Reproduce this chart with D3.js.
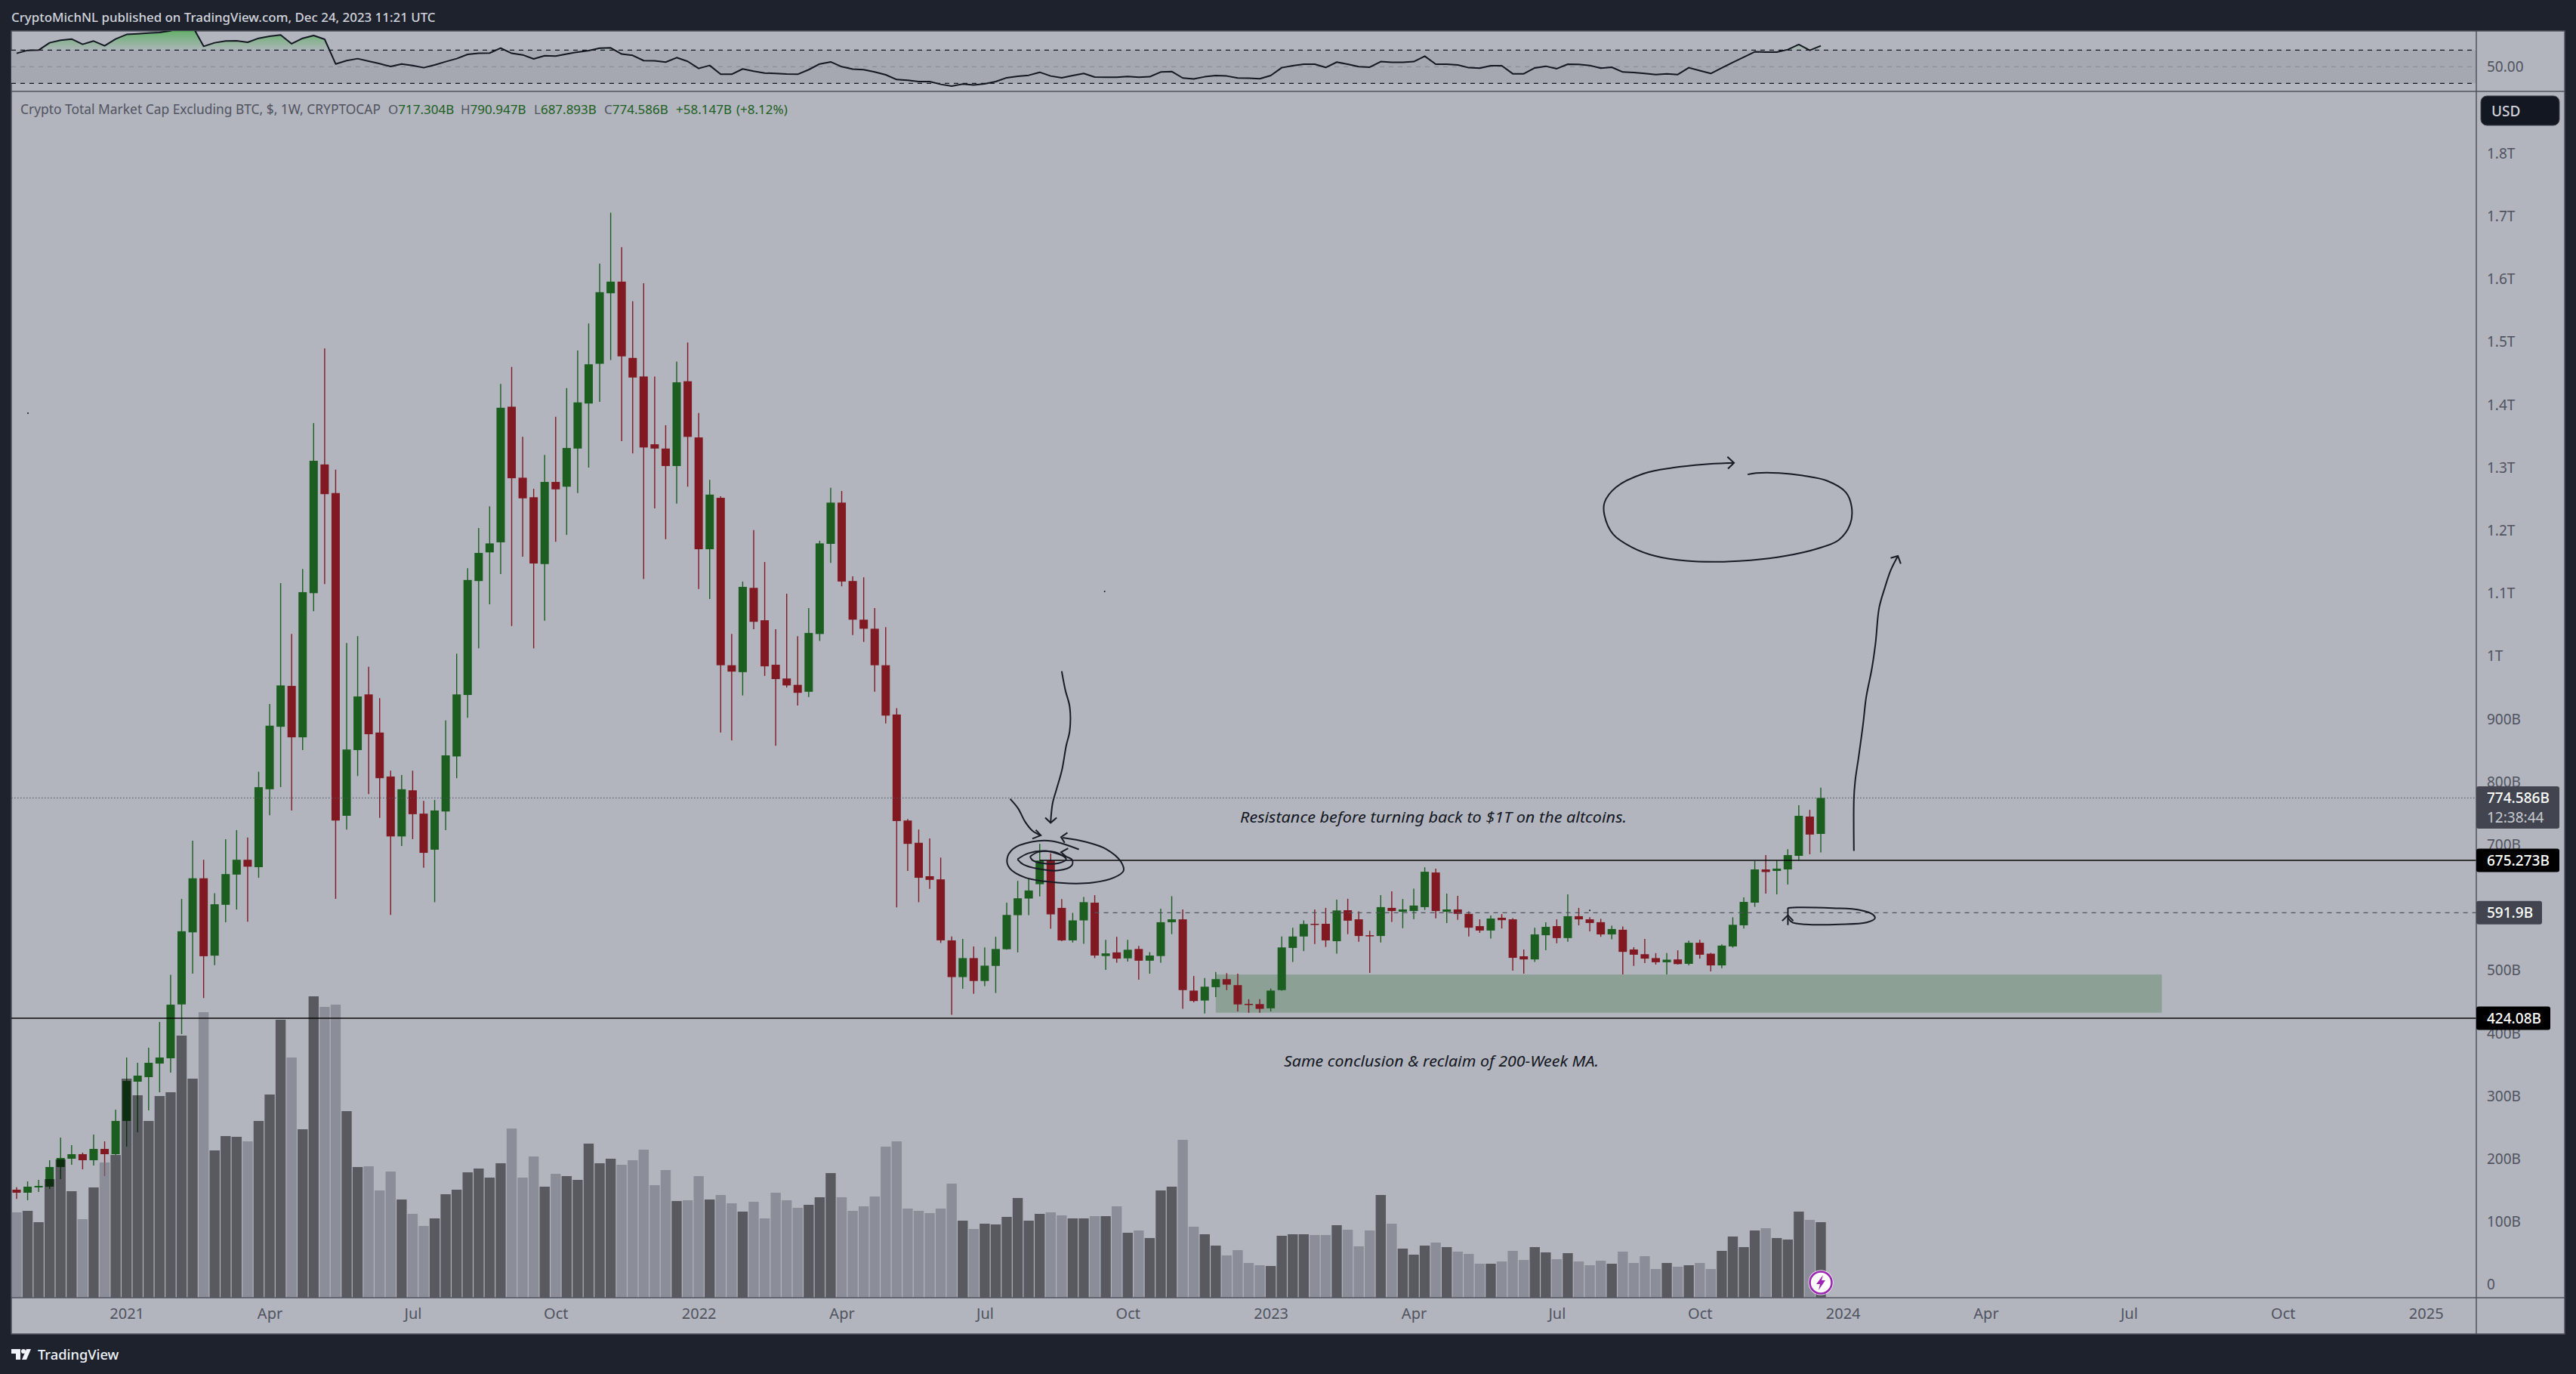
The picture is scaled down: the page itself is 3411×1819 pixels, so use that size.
<!DOCTYPE html>
<html>
<head>
<meta charset="utf-8">
<title>Crypto Total Market Cap Excluding BTC</title>
<script src="https://cdn.jsdelivr.net/npm/d3@7"></script>
<style>
  html, body { margin: 0; padding: 0; background: #1e222d; }
  svg { display: block; }
  text { font-family: "Noto Sans", sans-serif; }
</style>
</head>
<body>
<div id="chart"></div>
<script>
// weekly candles in billions of USD, first bar is the week of 2020-10-26
var firstWeek = "2020-10-26";
var opens = [
  151.2, 146.4, 154.8, 156.0, 187.3, 200.5, 207.7, 198.1, 216.1, 207.7,
  260.6, 323.1, 330.3, 351.9, 360.3, 446.0, 560.7, 646.7, 523.6, 604.5,
  652.6, 676.2, 664.4, 788.4, 887.8, 952.8, 871.0, 1100.4, 1305.2, 1259.7,
  746.2, 850.7, 939.3, 878.6, 808.6, 713.3, 786.7, 749.6, 692.2, 753.0,
  840.6, 938.4, 1119.7, 1165.3, 1181.3, 1397.1, 1284.1, 1253.0, 1146.7, 1277.4,
  1269.8, 1330.5, 1402.2, 1465.4, 1577.6, 1596.1, 1474.7, 1445.2, 1337.3, 1330.5,
  1302.7, 1437.6, 1348.2, 1170.3, 1252.1, 985.7, 974.7, 1108.8, 1057.3, 986.5,
  964.6, 954.5, 943.5, 1035.4, 1178.8, 1244.5, 1119.7, 1058.2, 1043.8, 985.7,
  907.3, 738.6, 703.2, 650.0, 645.0, 547.9, 489.5, 519.7, 483.3, 507.3,
  533.8, 588.0, 614.5, 637.3, 674.9, 599.6, 547.9, 579.7, 607.9, 523.0,
  528.8, 519.3, 534.2, 515.6, 523.0, 576.8, 581.4, 468.0, 452.2, 473.4,
  486.2, 476.7, 446.9, 446.5, 439.8, 468.8, 535.9, 554.1, 574.3, 574.3,
  546.6, 595.9, 581.4, 556.1, 554.9, 599.6, 593.4, 594.6, 600.8, 655.9,
  593.4, 597.1, 590.1, 570.6, 563.6, 583.9, 581.4, 522.6, 517.6, 556.1,
  570.6, 551.6, 586.4, 581.4, 576.8, 557.4, 564.8, 533.4, 525.9, 519.7,
  513.1, 517.6, 510.6, 544.1, 526.7, 508.1, 538.3, 571.9, 607.9, 660.8,
  658.4, 660.8, 682.4, 744.9, 717.304
];
var closes = [
  146.4, 156.0, 157.2, 187.3, 201.7, 207.7, 198.1, 216.1, 207.7, 260.6,
  324.3, 332.7, 353.1, 361.5, 445.6, 562.4, 646.7, 522.7, 605.4, 653.4,
  676.2, 665.2, 791.7, 889.5, 953.6, 871.0, 1102.0, 1311.0, 1258.0, 738.6,
  851.6, 936.0, 876.0, 806.0, 713.3, 788.4, 748.7, 687.2, 754.6, 842.3,
  939.3, 1121.4, 1164.4, 1179.6, 1395.4, 1283.3, 1251.3, 1147.6, 1277.4, 1265.6,
  1331.4, 1403.9, 1464.6, 1579.3, 1596.1, 1477.2, 1443.5, 1332.2, 1330.5, 1302.7,
  1435.9, 1349.1, 1170.3, 1257.2, 985.7, 975.6, 1110.4, 1054.8, 984.0, 963.7,
  953.6, 941.8, 1037.1, 1179.6, 1244.5, 1118.9, 1058.2, 1043.8, 985.7, 905.6,
  737.8, 701.5, 647.5, 644.2, 548.0, 489.5, 519.7, 483.3, 507.7, 534.2,
  588.4, 614.9, 627.3, 674.9, 589.3, 547.9, 579.7, 608.7, 523.8, 527.2,
  518.9, 533.0, 515.6, 523.8, 576.8, 581.4, 468.8, 451.4, 474.2, 486.2,
  477.5, 446.0, 446.1, 439.0, 468.0, 536.7, 554.1, 573.9, 573.5, 547.9,
  595.5, 579.3, 554.9, 554.5, 600.8, 594.6, 597.1, 603.3, 657.1, 594.6,
  597.1, 590.1, 568.1, 563.6, 582.6, 580.1, 520.1, 517.6, 557.4, 569.4,
  551.6, 586.4, 581.4, 575.6, 557.4, 566.0, 529.6, 525.1, 518.9, 513.1,
  517.2, 510.2, 544.1, 525.1, 508.1, 539.6, 572.7, 609.1, 660.8, 656.7,
  662.1, 683.6, 746.1, 716.3, 774.586
];
var highs = [
  155.2, 164.4, 166.8, 198.0, 234.1, 222.1, 210.1, 238.9, 228.1, 278.6,
  361.5, 353.1, 377.1, 418.0, 493.2, 613.8, 706.6, 676.2, 623.0, 709.0,
  723.4, 711.6, 816.2, 924.0, 1116.4, 1035.4, 1139.0, 1371.0, 1489.9, 1296.8,
  1021.1, 1032.0, 983.1, 933.4, 817.9, 811.1, 817.9, 769.8, 771.5, 898.0,
  1004.2, 1140.0, 1204.0, 1238.6, 1433.4, 1460.4, 1349.1, 1266.5, 1320.4, 1381.1,
  1426.7, 1486.5, 1529.5, 1624.8, 1705.8, 1650.9, 1565.0, 1593.6, 1445.2, 1367.6,
  1468.8, 1499.2, 1387.0, 1280.8, 1254.6, 1035.4, 1118.9, 1200.7, 1150.0, 1043.0,
  1099.5, 1032.0, 1076.7, 1183.8, 1268.1, 1263.0, 1127.3, 1125.6, 1076.7, 1046.4,
  917.4, 741.1, 724.3, 710.0, 679.6, 554.0, 550.3, 538.3, 536.7, 553.6,
  607.9, 642.6, 646.8, 701.8, 686.5, 613.7, 591.7, 617.0, 619.9, 548.7,
  553.6, 548.7, 539.2, 529.2, 598.4, 618.2, 597.1, 491.2, 487.9, 497.8,
  495.7, 494.9, 454.3, 454.3, 471.3, 554.1, 568.1, 579.7, 597.1, 599.6,
  612.8, 614.1, 594.2, 563.2, 619.9, 626.1, 613.7, 630.2, 664.2, 662.1,
  622.4, 618.6, 594.2, 581.4, 587.6, 589.7, 583.4, 533.4, 568.1, 576.8,
  581.4, 621.1, 599.6, 584.7, 582.2, 571.4, 570.2, 537.1, 550.3, 527.6,
  527.6, 532.1, 547.4, 548.7, 528.0, 541.6, 584.7, 616.2, 674.1, 683.6,
  674.9, 693.1, 763.1, 755.6, 790.947
];
var lows = [
  136.4, 134.4, 147.6, 152.4, 168.0, 190.9, 183.6, 189.7, 172.8, 206.5,
  219.7, 242.5, 277.4, 306.2, 337.5, 398.8, 494.9, 456.1, 508.4, 576.7,
  597.0, 577.6, 647.5, 747.0, 791.7, 754.6, 850.7, 1071.7, 1114.7, 613.8,
  724.3, 809.4, 780.8, 742.8, 588.5, 698.0, 709.0, 663.5, 608.7, 723.4,
  806.0, 902.2, 1012.6, 1082.6, 1130.7, 1048.0, 1158.5, 1012.6, 1056.5, 1182.1,
  1193.1, 1259.7, 1300.2, 1404.7, 1471.4, 1342.3, 1322.9, 1123.1, 1235.2, 1186.3,
  1242.8, 1269.8, 1107.0, 1091.0, 878.6, 865.9, 937.6, 1043.0, 968.8, 857.5,
  950.3, 921.6, 935.1, 1024.4, 1148.4, 1111.3, 1033.7, 1022.8, 943.5, 893.0,
  600.3, 658.5, 608.7, 629.9, 543.8, 429.5, 470.9, 463.0, 475.0, 464.2,
  533.0, 528.8, 588.0, 617.8, 566.5, 546.6, 544.5, 542.5, 519.7, 501.1,
  512.3, 514.3, 485.4, 494.9, 512.3, 557.8, 439.0, 449.4, 431.6, 457.6,
  468.8, 434.9, 432.8, 432.8, 434.9, 468.0, 513.5, 530.9, 542.0, 537.5,
  526.8, 557.8, 545.8, 496.1, 544.6, 577.2, 567.3, 581.8, 596.3, 583.0,
  575.6, 580.6, 554.1, 559.9, 550.8, 566.9, 499.8, 494.9, 513.5, 532.1,
  543.3, 545.8, 571.9, 562.4, 553.6, 549.5, 493.6, 507.3, 511.8, 509.4,
  493.6, 509.4, 508.1, 518.9, 498.6, 503.6, 536.3, 566.9, 601.3, 622.4,
  621.1, 636.9, 674.9, 684.9, 687.893
];

// weekly volume in relative units, the pane shows no scale for it
var volumes = [
  33.9, 34.5, 30.0, 47.1, 54.9, 42.3, 31.2, 43.8, 53.7, 56.7,
  87.0, 80.4, 70.2, 80.1, 81.6, 104.1, 87.0, 113.4, 58.5, 64.2,
  63.9, 62.1, 70.2, 80.7, 110.4, 95.4, 66.9, 119.7, 115.5, 116.4,
  74.1, 51.9, 52.2, 42.6, 50.1, 39.0, 33.3, 28.5, 31.5, 41.1,
  42.9, 49.8, 51.3, 47.7, 53.4, 67.2, 47.7, 56.1, 44.1, 49.2,
  48.3, 46.8, 61.2, 53.4, 55.2, 52.8, 54.6, 58.8, 44.7, 50.7,
  38.4, 38.7, 48.3, 39.0, 40.8, 37.5, 34.2, 38.1, 31.5, 41.7,
  38.7, 35.7, 36.9, 39.9, 49.5, 39.9, 34.5, 36.3, 40.2, 60.0,
  62.1, 35.4, 34.5, 33.6, 35.4, 45.3, 30.6, 27.3, 29.4, 29.1,
  32.1, 39.6, 30.6, 33.3, 33.9, 32.7, 31.5, 31.5, 32.4, 32.4,
  36.3, 25.8, 26.7, 23.7, 42.6, 44.1, 62.7, 28.2, 25.2, 20.7,
  16.8, 18.9, 13.8, 12.9, 12.6, 24.6, 25.2, 25.2, 24.9, 24.9,
  28.8, 27.0, 20.4, 26.7, 40.8, 29.4, 19.5, 17.1, 20.7, 21.9,
  20.1, 18.3, 17.4, 13.5, 13.5, 14.4, 18.6, 15.0, 20.1, 18.0,
  15.3, 17.7, 14.4, 12.9, 14.7, 13.5, 18.3, 13.8, 16.5, 11.4,
  13.8, 12.3, 12.9, 13.8, 11.4, 18.6, 24.3, 20.1, 26.7, 27.6,
  23.7, 23.1, 34.2, 30.9, 30.0
];

// rsi for the same weeks
var rsiValues = [
  66.1, 69.7, 70.0, 78.8, 81.8, 83.3, 77.0, 80.9, 75.2, 83.3,
  88.8, 89.7, 90.6, 91.2, 93.3, 98.5, 98.5, 74.5, 78.8, 80.9,
  81.2, 79.4, 84.2, 86.7, 88.2, 77.6, 84.2, 87.6, 83.0, 53.3,
  57.3, 59.7, 56.7, 53.6, 50.3, 53.3, 51.5, 48.8, 52.1, 56.1,
  59.7, 64.8, 66.1, 66.4, 72.4, 66.1, 64.2, 59.4, 63.3, 62.7,
  65.2, 67.6, 69.4, 72.4, 72.7, 65.2, 63.6, 57.3, 57.0, 55.5,
  60.9, 56.4, 47.9, 51.5, 40.9, 40.9, 47.3, 44.5, 42.4, 41.8,
  41.2, 40.9, 46.4, 53.3, 55.8, 50.0, 47.0, 46.4, 43.6, 40.3,
  34.5, 33.6, 32.1, 32.1, 28.8, 26.7, 29.1, 27.9, 29.4, 32.1,
  36.7, 38.5, 39.7, 43.3, 38.8, 36.7, 39.4, 41.8, 37.6, 37.3,
  37.3, 38.2, 37.3, 37.9, 43.6, 44.2, 36.4, 35.2, 37.9, 39.4,
  38.8, 36.4, 36.1, 35.5, 39.4, 48.8, 51.2, 53.0, 53.0, 49.1,
  55.5, 53.0, 50.0, 49.4, 56.1, 55.2, 55.2, 56.1, 62.7, 53.0,
  53.0, 52.1, 48.8, 48.2, 51.2, 51.2, 41.5, 41.5, 48.5, 50.6,
  47.6, 53.0, 52.7, 51.5, 48.2, 49.4, 43.6, 43.0, 41.8, 40.6,
  41.5, 40.6, 48.8, 45.2, 41.8, 48.5, 55.2, 61.5, 67.9, 67.6,
  67.6, 70.6, 76.7, 69.7, 75.2
];
var rsiBands = [70, 50, 30];

// axis ticks
var priceTicks = [0, 100, 200, 300, 400, 500, 700, 800, 900, 1000, 1100, 1200, 1300, 1400, 1500, 1600, 1700, 1800];
var timeTicks = ["2021-01-04", "2021-04-05", "2021-07-05", "2021-10-04", "2022-01-03", "2022-04-04", "2022-07-04", "2022-10-03",
  "2023-01-02", "2023-04-03", "2023-07-03", "2023-10-02", "2024-01-01", "2024-04-01", "2024-07-01", "2024-10-07", "2025-01-06"];
var timeLabels = ["2021", "Apr", "Jul", "Oct", "2022", "Apr", "Jul", "Oct", "2023", "Apr", "Jul", "Oct", "2024", "Apr", "Jul", "Oct", "2025"];

// price levels drawn on the chart
var lastPrice = 774.586;
var resistance = 675.273;
var midLevel = 591.9;
var supportLevel = 424.08;
var zoneTop = 493.6;
var zoneBottom = 432.8;

// hand drawn strokes as [bar number, price]
var strokes = [
  [[95.0, 976.2], [95.33, 946], [95.73, 919.1], [95.73, 881.9], [95.4, 857], [95.03, 819.8], [94.57, 790.8], [94.17, 766], [93.99, 735]],
  [[90.31, 773], [91.04, 757.7], [91.66, 737], [92.33, 722.5], [93.1, 715.1]],
  [[95.09, 711.3], [97.17, 704.7], [99.01, 693.5], [100.39, 672.9], [100.61, 658.4], [99.78, 648], [97.79, 639.7], [95.64, 638.5], [93.5, 641.8], [91.66, 648], [90.28, 662.5], [90.03, 677], [90.58, 693.5], [92.27, 704.7], [94.11, 706], [96.56, 692.7]],
  [[90.98, 677], [91.96, 686.5], [93.5, 690.2], [95.03, 683.2], [95.95, 675.8], [95.89, 666.6], [94.72, 659.2], [92.88, 661.7], [91.5, 668.7], [90.98, 677]],
  [[92.12, 681.1], [92.88, 688.6], [94.41, 688.2], [95.4, 677], [94.72, 670.8], [93.19, 670.8], [92.33, 675.7], [92.12, 681.1]],
  [[161.01, 599.6], [161.87, 600.4], [165.09, 599.2], [167.54, 596.3], [168.76, 588.8], [168.92, 583], [168.15, 576.4], [165.7, 573.5], [162.64, 573.5], [161.41, 576.4], [161.01, 583.9]],
  [[167.01, 690.4], [167.01, 773.2], [167.12, 800.8], [167.46, 842.2], [167.85, 892.8], [168.12, 934.2], [168.64, 980.2], [168.98, 1021.6], [169.3, 1076.8], [169.82, 1109], [170.35, 1136.6], [171.01, 1159.6]],
  [[156.03, 1307.7], [153.41, 1305.4], [150.52, 1299.9], [147.89, 1290.7], [145.39, 1269.1], [144.34, 1244.7], [144.34, 1224], [145.13, 1194.1], [146.84, 1173.4], [148.94, 1159.6], [151.83, 1151.8], [154.72, 1150.4], [157.61, 1152.7], [160.76, 1159.6], [163.65, 1171.1], [165.62, 1184.9], [166.67, 1210.2], [166.8, 1237.8], [166.28, 1260.8], [164.57, 1279.2], [162.34, 1287.5], [160.24, 1291.6], [158.13, 1291.6], [157.35, 1289.3]]
];
var arrowHeads = [
  [[93.5, 743.2], [93.99, 735], [94.54, 743.2]],
  [[92.64, 723.8], [93.1, 715.1], [92.33, 709.7]],
  [[95.52, 719.2], [94.94, 712.2], [95.27, 703.1]],
  [[95.58, 694.4], [94.94, 688.2], [95.4, 681.1]],
  [[161.01, 599.6], [161.01, 572.3]],
  [[160.49, 578.9], [161.01, 588], [161.5, 578.9]],
  [[170.35, 1156.4], [171.01, 1159.6], [171.27, 1147.2]],
  [[155.51, 1317.4], [156.11, 1307.7], [155.56, 1298.5]]
];
var specks = [[1.03, 1386.8], [98.9, 1103], [143, 595.5]];

// page layout
var svgWidth = 3411;
var svgHeight = 1819;
var pane = { left: 15, right: 3279, edge: 3396, top: 41, rsiBottom: 121, bottom: 1718, axisBottom: 1766 };

var bg = "#b2b5be";
var dark = "#1e222d";
var upColor = "#1b5e20";
var downColor = "#801922";
var axisText = "#50535e";
var lineColor = "#50535e";

function barDate(i) {
  return new Date(Date.parse(firstWeek + "T00:00:00Z") + i * 7 * 864e5);
}

var svg = d3.select("#chart")
  .append("svg")
  .attr("width", svgWidth)
  .attr("height", svgHeight);

var defs = svg.append("defs");
defs.append("clipPath").attr("id", "rsiClip").append("rect")
  .attr("x", pane.left).attr("y", pane.top)
  .attr("width", pane.right - pane.left).attr("height", pane.rsiBottom - pane.top);
defs.append("clipPath").attr("id", "mainClip").append("rect")
  .attr("x", pane.left).attr("y", pane.rsiBottom)
  .attr("width", pane.right - pane.left).attr("height", pane.bottom - pane.rsiBottom);

// scales
var bars = d3.range(opens.length);
var xScale = d3.scaleUtc()
  .domain([barDate(0), barDate(opens.length - 1)])
  .range([22, 2411]);
var yScale = d3.scaleLinear().domain([0, 1800]).range([1700.8, 203.2]);
var volScale = d3.scaleLinear().domain([0, 120]).range([pane.bottom, pane.bottom - 400]);
var rsiScale = d3.scaleLinear().domain([30, 70]).range([110.3, 66.3]);

function barX(i) {
  return xScale(barDate(i));
}

// frame and panes
svg.append("rect").attr("width", svgWidth).attr("height", svgHeight).attr("fill", dark);
svg.append("rect")
  .attr("x", pane.left).attr("y", pane.top)
  .attr("width", pane.edge - pane.left).attr("height", pane.axisBottom - pane.top)
  .attr("fill", bg).attr("stroke", "#50535e").attr("stroke-width", 1.5);

// rsi pane
var rsiGroup = svg.append("g").attr("clip-path", "url(#rsiClip)");
rsiGroup.append("rect")
  .attr("x", pane.left).attr("width", pane.right - pane.left)
  .attr("y", rsiScale(70)).attr("height", rsiScale(30) - rsiScale(70))
  .attr("fill", "#a5a8b1");

var rsiGradient = defs.append("linearGradient").attr("id", "rsiFill")
  .attr("gradientUnits", "userSpaceOnUse")
  .attr("x1", 0).attr("x2", 0).attr("y1", pane.top).attr("y2", rsiScale(70));
rsiGradient.append("stop").attr("offset", 0).attr("stop-color", "#4caf50").attr("stop-opacity", 0.75);
rsiGradient.append("stop").attr("offset", 1).attr("stop-color", "#4caf50").attr("stop-opacity", 0.05);

defs.append("clipPath").attr("id", "rsiTopClip").append("rect")
  .attr("x", pane.left).attr("y", pane.top)
  .attr("width", pane.right - pane.left).attr("height", rsiScale(70) - pane.top);

rsiGroup.append("path")
  .datum(bars)
  .attr("clip-path", "url(#rsiTopClip)")
  .attr("fill", "url(#rsiFill)")
  .attr("d", d3.area().x(barX).y0(rsiScale(70)).y1(function(i) { return rsiScale(rsiValues[i]); }));

rsiGroup.selectAll(".rsiBand")
  .data(rsiBands)
  .enter()
  .append("line")
  .attr("x1", pane.left).attr("x2", pane.right)
  .attr("y1", rsiScale).attr("y2", rsiScale)
  .attr("stroke", function(d) { return d === 50 ? "#8b8e98" : "#131722"; })
  .attr("stroke-width", 1.3)
  .attr("stroke-dasharray", "6 6");

rsiGroup.append("path")
  .datum(bars)
  .attr("fill", "none")
  .attr("stroke", "#131722")
  .attr("stroke-width", 2)
  .attr("stroke-linejoin", "round")
  .attr("d", d3.line().x(barX).y(function(i) { return rsiScale(rsiValues[i]); }));

// rsi axis
var rsiAxis = svg.append("g")
  .attr("transform", "translate(" + pane.right + ",0)")
  .call(d3.axisRight(rsiScale).tickValues([50]).tickFormat(d3.format(".2f")).tickSize(0).tickPadding(14));
rsiAxis.select(".domain").remove();
rsiAxis.selectAll("text").attr("font-size", 19).attr("fill", axisText).attr("font-family", "Noto Sans");

// main pane
var chartGroup = svg.append("g").attr("clip-path", "url(#mainClip)");

// green zone under the candles
chartGroup.append("rect")
  .attr("x", barX(109))
  .attr("width", barX(195) - barX(109))
  .attr("y", yScale(zoneTop))
  .attr("height", yScale(zoneBottom) - yScale(zoneTop))
  .attr("fill", "#8da096");

// candle wicks
chartGroup.selectAll(".wick")
  .data(bars)
  .enter()
  .append("line")
  .attr("x1", barX).attr("x2", barX)
  .attr("y1", function(i) { return yScale(highs[i]); })
  .attr("y2", function(i) { return yScale(lows[i]); })
  .attr("stroke", function(i) { return closes[i] >= opens[i] ? upColor : downColor; })
  .attr("stroke-width", 1.4);

// candle bodies
chartGroup.selectAll(".body")
  .data(bars)
  .enter()
  .append("rect")
  .attr("x", function(i) { return barX(i) - 5.5; })
  .attr("width", 11)
  .attr("y", function(i) { return yScale(Math.max(opens[i], closes[i])); })
  .attr("height", function(i) { return Math.max(yScale(Math.min(opens[i], closes[i])) - yScale(Math.max(opens[i], closes[i])), 1.5); })
  .attr("fill", function(i) { return closes[i] >= opens[i] ? upColor : downColor; });

// volume sits over the candles and darkens them
chartGroup.selectAll(".vol")
  .data(bars)
  .enter()
  .append("rect")
  .attr("x", function(i) { return barX(i) - 6.7; })
  .attr("width", 13.4)
  .attr("y", function(i) { return volScale(volumes[i]); })
  .attr("height", function(i) { return volScale(0) - volScale(volumes[i]); })
  .attr("fill", function(i) { return closes[i] >= opens[i] ? "#000" : "#71747f"; })
  .attr("fill-opacity", function(i) { return closes[i] >= opens[i] ? 0.5 : 0.6; });

// horizontal levels
chartGroup.append("line")
  .attr("x1", pane.left).attr("x2", pane.right)
  .attr("y1", yScale(lastPrice)).attr("y2", yScale(lastPrice))
  .attr("stroke", lineColor).attr("stroke-width", 1).attr("stroke-dasharray", "1.5 2.5");
chartGroup.append("line")
  .attr("x1", barX(93)).attr("x2", pane.right)
  .attr("y1", yScale(resistance)).attr("y2", yScale(resistance))
  .attr("stroke", "#0a0a0a").attr("stroke-width", 1.4);
chartGroup.append("line")
  .attr("x1", barX(98)).attr("x2", pane.right)
  .attr("y1", yScale(midLevel)).attr("y2", yScale(midLevel))
  .attr("stroke", lineColor).attr("stroke-width", 1.2).attr("stroke-dasharray", "6 6");
chartGroup.append("line")
  .attr("x1", pane.left).attr("x2", pane.right)
  .attr("y1", yScale(supportLevel)).attr("y2", yScale(supportLevel))
  .attr("stroke", "#0a0a0a").attr("stroke-width", 1.4);

// hand drawn notes
var curveLine = d3.line()
  .x(function(d) { return barX(d[0]); })
  .y(function(d) { return yScale(d[1]); })
  .curve(d3.curveCatmullRom);
var straightLine = d3.line()
  .x(function(d) { return barX(d[0]); })
  .y(function(d) { return yScale(d[1]); });

chartGroup.selectAll(".stroke")
  .data(strokes)
  .enter()
  .append("path")
  .attr("fill", "none")
  .attr("stroke", "#171b26")
  .attr("stroke-width", 2)
  .attr("d", curveLine);
chartGroup.selectAll(".head")
  .data(arrowHeads)
  .enter()
  .append("path")
  .attr("fill", "none")
  .attr("stroke", "#171b26")
  .attr("stroke-width", 2)
  .attr("d", straightLine);
chartGroup.selectAll(".speck")
  .data(specks)
  .enter()
  .append("circle")
  .attr("cx", function(d) { return barX(d[0]); })
  .attr("cy", function(d) { return yScale(d[1]); })
  .attr("r", 1)
  .attr("fill", "#131722");

chartGroup.append("text")
  .attr("x", 1642).attr("y", 1082).attr("dy", "0.35em")
  .attr("font-size", 20).attr("font-style", "italic").attr("fill", "#131722")
  .attr("textLength", 512).attr("lengthAdjust", "spacingAndGlyphs")
  .text("Resistance before turning back to $1T on the altcoins.");
chartGroup.append("text")
  .attr("x", 1700).attr("y", 1405).attr("dy", "0.35em")
  .attr("font-size", 19).attr("font-style", "italic").attr("fill", "#131722")
  .attr("textLength", 417).attr("lengthAdjust", "spacingAndGlyphs")
  .text("Same conclusion & reclaim of 200-Week MA.");

// event flag on the last bar
var flash = svg.append("g").attr("transform", "translate(" + barX(164) + ",1698)");
flash.append("circle").attr("r", 16.5).attr("fill", "#fff");
flash.append("circle").attr("r", 14.5).attr("fill", "#fff").attr("stroke", "#9c27b0").attr("stroke-width", 2.6);
flash.append("path").attr("d", "M3,-10 L-6,2 L-1,2 L-3,10 L6,-3 L1,-3 Z").attr("fill", "#9c27b0");

// pane borders
svg.append("line")
  .attr("x1", pane.left).attr("x2", pane.edge)
  .attr("y1", pane.rsiBottom).attr("y2", pane.rsiBottom)
  .attr("stroke", lineColor).attr("stroke-width", 1.5);
svg.append("line")
  .attr("x1", pane.left).attr("x2", pane.edge)
  .attr("y1", pane.bottom).attr("y2", pane.bottom)
  .attr("stroke", lineColor).attr("stroke-width", 1.5);
svg.append("line")
  .attr("x1", pane.right).attr("x2", pane.right)
  .attr("y1", pane.top).attr("y2", pane.axisBottom)
  .attr("stroke", lineColor).attr("stroke-width", 1.5);

// axes
function priceFormat(d) {
  if (d === 0) return "0";
  if (d < 1000) return d + "B";
  return (d / 1000) + "T";
}
var priceAxis = svg.append("g")
  .attr("transform", "translate(" + pane.right + ",0)")
  .call(d3.axisRight(yScale).tickValues(priceTicks).tickFormat(priceFormat).tickSize(0).tickPadding(14));
priceAxis.select(".domain").remove();
priceAxis.selectAll("text").attr("font-size", 19).attr("fill", axisText).attr("font-family", "Noto Sans");

var timeAxis = svg.append("g")
  .attr("transform", "translate(0," + pane.bottom + ")")
  .call(d3.axisBottom(xScale)
    .tickValues(timeTicks.map(function(d) { return new Date(d + "T00:00:00Z"); }))
    .tickFormat(function(d, i) { return timeLabels[i]; })
    .tickSize(0)
    .tickPadding(14));
timeAxis.select(".domain").remove();
timeAxis.selectAll("text").attr("font-size", 20).attr("fill", axisText).attr("font-family", "Noto Sans");

// price markers on the right axis
function marker(value, label, boxWidth, fill) {
  svg.append("rect")
    .attr("x", pane.right).attr("width", boxWidth)
    .attr("y", yScale(value) - 15.5).attr("height", 31)
    .attr("rx", 3)
    .attr("fill", fill);
  svg.append("text")
    .attr("x", pane.right + 14).attr("y", yScale(value)).attr("dy", "0.35em")
    .attr("font-size", 19).attr("font-weight", 500).attr("fill", "#fff")
    .text(label);
}
svg.append("rect")
  .attr("x", pane.right).attr("width", 110)
  .attr("y", 1041).attr("height", 56)
  .attr("rx", 3).attr("fill", "#42454f");
svg.append("text")
  .attr("x", pane.right + 14).attr("y", yScale(lastPrice)).attr("dy", "0.35em")
  .attr("font-size", 19).attr("font-weight", 500).attr("fill", "#fff")
  .text("774.586B");
svg.append("text")
  .attr("x", pane.right + 14).attr("y", 1082).attr("dy", "0.35em")
  .attr("font-size", 19).attr("fill", "#c8cad0")
  .text("12:38:44");
marker(resistance, "675.273B", 110, "#000");
marker(midLevel, "591.9B", 87, "#42454f");
marker(supportLevel, "424.08B", 98, "#000");

// currency button
svg.append("rect")
  .attr("x", 3285).attr("y", 127).attr("width", 104).attr("height", 39)
  .attr("rx", 8)
  .attr("fill", "#131722").attr("stroke", "#434651");
svg.append("text")
  .attr("x", 3299).attr("y", 147).attr("dy", "0.35em")
  .attr("font-size", 19).attr("font-weight", 500).attr("fill", "#d1d4dc")
  .text("USD");

// header and legend texts
svg.append("text")
  .attr("x", 15).attr("y", 23).attr("dy", "0.35em")
  .attr("font-size", 16.9).attr("font-weight", 500).attr("fill", "#d1d4dc")
  .text("CryptoMichNL published on TradingView.com, Dec 24, 2023 11:21 UTC");
svg.append("text")
  .attr("x", 27).attr("y", 145).attr("dy", "0.35em")
  .attr("font-size", 17.4).attr("fill", axisText)
  .text("Crypto Total Market Cap Excluding BTC, $, 1W, CRYPTOCAP");

var legendStart = [514, 610, 707, 800, 895, 975];
var legendPrefix = ["O", "H", "L", "C", "", ""];
var legendValues = ["717.304B", "790.947B", "687.893B", "774.586B", "+58.147B", "(+8.12%)"];
var legendText = svg.selectAll(".legendItem")
  .data(legendValues)
  .enter()
  .append("text")
  .attr("x", function(d, i) { return legendStart[i]; })
  .attr("y", 145).attr("dy", "0.35em")
  .attr("font-size", 17).attr("fill", upColor);
legendText.append("tspan").attr("fill", axisText).text(function(d, i) { return legendPrefix[i]; });
legendText.append("tspan").text(function(d) { return d; });

// tradingview mark
var logo = svg.append("g").attr("fill", "#f0f3fa");
logo.append("path").attr("d", "M15,1786 h12 v14 h-6 v-8 h-6 Z");
logo.append("circle").attr("cx", 31).attr("cy", 1789).attr("r", 3);
logo.append("path").attr("d", "M35,1786 h6 l-6,14 h-6 Z");
svg.append("text")
  .attr("x", 50).attr("y", 1794).attr("dy", "0.35em")
  .attr("font-size", 18.3).attr("font-weight", 500).attr("fill", "#f0f3fa")
  .text("TradingView");
</script>
</body>
</html>
